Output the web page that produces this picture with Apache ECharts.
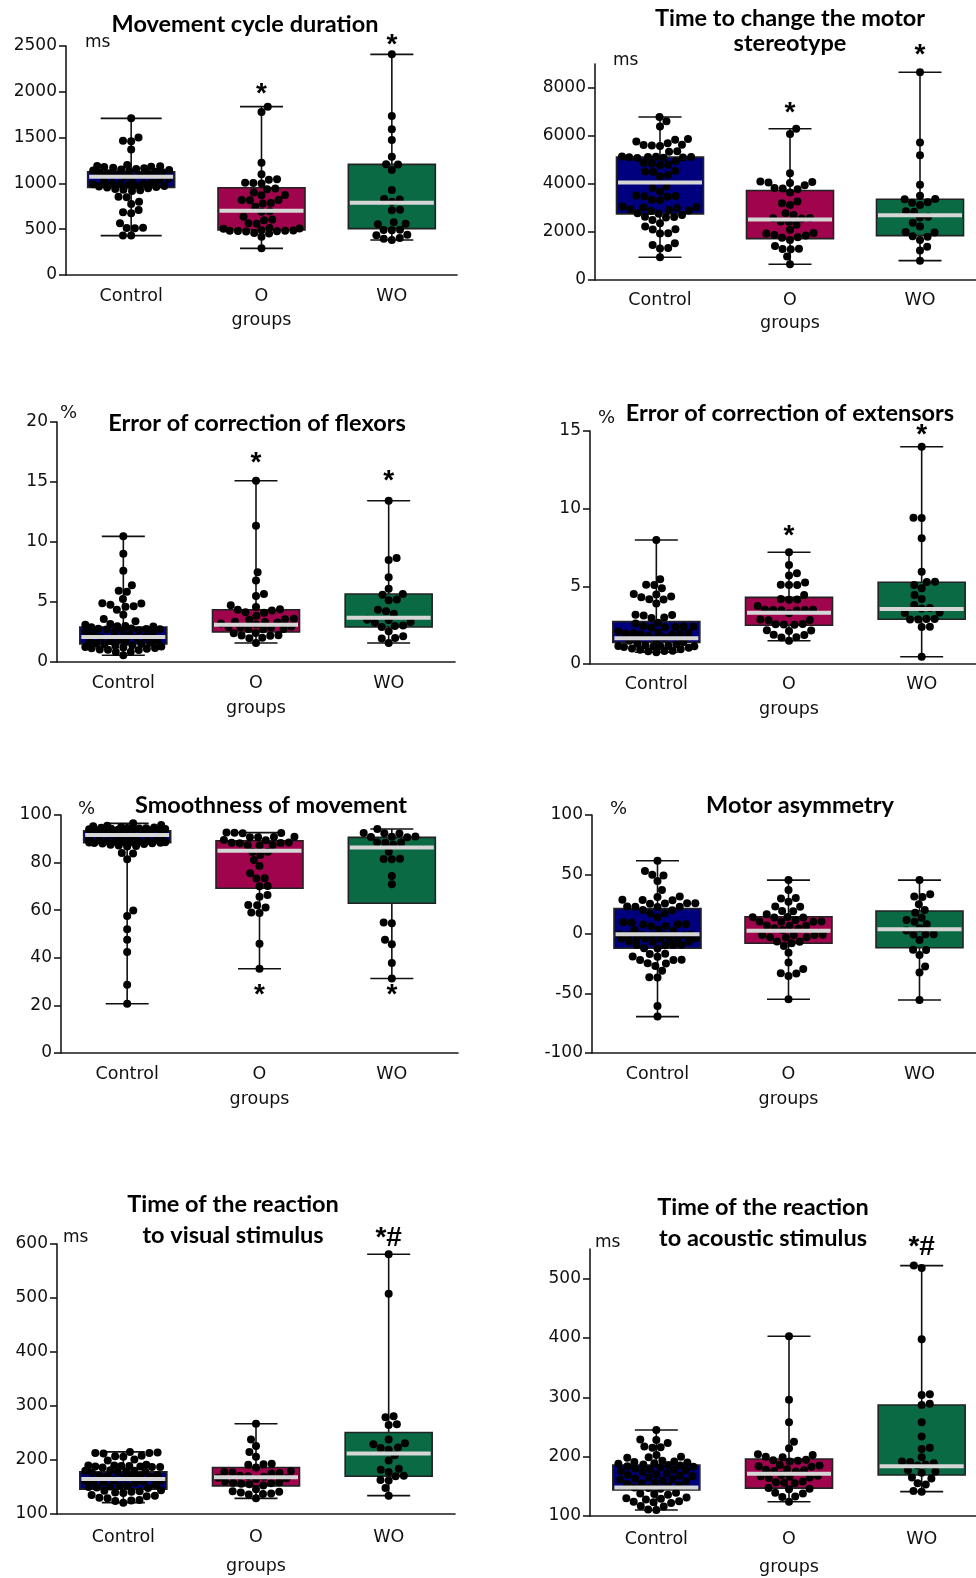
<!DOCTYPE html>
<html><head><meta charset="utf-8">
<script src="https://cdn.jsdelivr.net/npm/echarts@6/dist/echarts.min.js"></script>
<style>html,body{margin:0;padding:0;background:#fff}#c{width:976px;height:1578px}</style>
</head><body><div id="c"></div>
<script>
// ---------------- DATA ----------------
const groups = ['Control', 'O', 'WO'];
const titles = ['Movement cycle duration', 'Time to change the motor\nstereotype', 'Error of correction of flexors',
  'Error of correction of extensors', 'Smoothness of movement', 'Motor asymmetry',
  'Time of the reaction\nto visual stimulus', 'Time of the reaction\nto acoustic stimulus'];
const units = ['ms', 'ms', '%', '%', '%', '%', 'ms', 'ms'];

// box stats per group: [min, Q1, median, Q3, max]
const cycleControl = [1710,1500,1465,1460,1370,1200,1190,1188,1182,1178,1170,1165,1158,1152,1146,1140,1134,1128,1122,1116,1110,1105,1100,1090,1075,1060,1050,1040,1030,1010,1005,1000,996,992,986,980,972,966,960,954,948,940,932,924,918,855,850,800,775,710,685,673,564,517,512,510,432,430];
const cycleO = [1838,1780,1226,1099,1044,1040,1008,1005,1000,945,935,900,873,870,820,818,815,785,780,746,695,690,637,605,598,565,560,512,508,505,488,486,484,482,480,478,476,458,452,418,291];
const cycleWO = [2409,1736,1590,1474,1292,1210,1205,1146,928,830,825,800,712,708,575,560,553,495,490,488,440,435,405,395,382];
const cycleBox = [[430,957,1073,1128,1710],[291,491,702,953,1838],[382,506,790,1208,2409]];
const cycleTicks = [0,500,1000,1500,2000,2500];

const stereoControl = [6790,6610,6400,5870,5843,5775,5700,5640,5620,5600,5580,5360,5340,5150,5140,5130,5120,5110,5100,5090,5080,4950,4870,4850,4800,4780,4540,4520,4500,4380,4310,3900,3830,3690,3520,3500,3490,3470,3340,3320,3060,3040,3020,3000,2950,2920,2900,2880,2780,2760,2710,2640,2620,2600,2500,2365,2230,2110,2100,1950,1940,1530,1460,1330,1310,946];
const stereoO = [6303,6080,4452,4100,4080,4060,4040,3950,3830,3810,3780,3650,3270,3200,3130,2780,2710,2580,2570,2560,2440,2430,2300,2090,1960,1940,1870,1850,1780,1760,1670,1420,1300,1290,1280,974,654];
const stereoWO = [8654,5732,5203,3965,3506,3380,3360,3240,3220,3130,2860,2840,2640,2600,2390,2226,2000,1980,1820,1800,1670,1390,1224,807];
const stereoBox = [[946,2755,4063,5120,6790],[654,1725,2518,3729,6303],[807,1850,2699,3367,8654]];
const stereoTicks = [0,2000,4000,6000,8000];

const flexControl = [10.47,9.03,7.6,6.39,5.94,5.85,5.25,4.9,4.88,4.78,4.64,4.6,4.36,3.94,3.58,3.39,3.17,3.1,3.0,2.97,2.95,2.9,2.8,2.78,2.75,2.72,2.7,2.65,2.6,2.55,2.5,2.4,2.3,2.2,2.1,2.05,2.0,1.9,1.8,1.75,1.7,1.65,1.6,1.55,1.5,1.45,1.4,1.35,1.3,1.25,1.2,1.17,1.15,1.1,1.05,1.03,1.0,0.85,0.83,0.56];
const flexO = [15.1,11.36,7.47,6.8,5.67,5.5,4.72,4.58,4.4,4.36,4.3,4.14,4.1,3.86,3.6,3.56,3.53,3.35,3.33,3.3,3.2,3.15,2.95,2.92,2.9,2.88,2.76,2.74,2.72,2.42,2.4,2.22,2.2,2.18,2.02,1.98,1.58];
const flexWO = [13.44,8.67,8.5,7.06,6.11,5.67,5.6,5.2,5.15,4.36,4.22,4.03,3.53,3.5,3.33,3.3,3.05,3.0,2.92,2.56,2.14,2.0,1.95,1.58];
const flexBox = [[0.56,1.5,2.08,2.92,10.47],[1.58,2.5,3.11,4.36,15.1],[1.58,2.92,3.69,5.67,13.44]];
const flexTicks = [0,5,10,15,20];

const extControl = [7.98,5.45,5.1,5.08,4.87,4.5,4.48,4.35,4.3,4.17,4.15,3.9,3.17,3.15,3.12,3.0,2.96,2.65,2.6,2.45,2.42,2.4,2.38,2.36,2.34,2.1,2.05,2.0,1.98,1.96,1.94,1.92,1.9,1.8,1.7,1.6,1.5,1.4,1.3,1.25,1.2,1.18,1.16,1.15,1.14,1.12,1.1,1.05,1.0,0.95,0.92,0.86,0.84,0.82,0.76];
const extO = [7.19,6.37,5.84,5.7,5.24,5.1,5.09,5.08,4.44,4.18,4.16,4.14,3.73,3.5,3.49,3.48,3.47,3.46,3.45,3.26,2.86,2.84,2.82,2.58,2.56,2.54,2.52,2.17,2.15,2.13,1.88,1.86,1.73,1.71,1.5];
const extWO = [13.99,9.42,9.4,8.09,5.94,5.3,5.28,5.09,4.87,4.44,4.18,3.8,3.6,3.58,3.32,3.28,2.9,2.89,2.87,2.86,2.4,2.38,0.47];
const extBox = [[0.76,1.39,1.65,2.73,7.98],[1.5,2.49,3.3,4.29,7.19],[0.47,2.88,3.54,5.26,13.99]];
const extTicks = [0,5,10,15];

const smoothControl = [96.5,95.8,95.5,95.3,95,94.8,94.6,94.5,94.4,94.3,94.2,94.1,94,93.9,93.8,93.7,93.6,93.5,93.3,93,92.5,92,91.5,91,90.5,90,89.8,89.6,89.4,89.2,89,88.9,88.8,88.7,88.6,88.5,88.4,88.3,88.2,88.1,88,87.8,87.5,87.2,87,86.8,84,83.8,81.4,59.9,57.6,52,47.6,42.4,28.7,20.7];
const smoothO = [92.6,92.5,92.4,92.3,90.9,90.8,90.7,90.6,89.5,89.4,88.4,88.3,88.2,88.1,87.4,87.3,87.2,84.6,84.5,83.2,81.1,78.6,75.5,73.4,73.3,70.2,70.1,66.4,65.7,62.2,62.1,61.1,59,58.8,45.9,35.4];
const smoothWO = [94.1,92.4,92.3,92.2,91,90.9,90.8,90.7,88.5,88.4,88.3,87.5,84.6,81.6,81.5,81.4,74.4,70.9,54.8,54.5,47.6,45.7,37.8,31.3];
const smoothBox = [[20.7,88.4,91.6,93.4,96.5],[35.4,69.2,85,89.2,92.6],[31.3,62.9,86.3,90.6,94.1]];
const smoothTicks = [0,20,40,60,80,100];

const asymControl = [61.5,52.9,49.8,49.2,44.5,36.9,31.5,31.1,28.7,28.5,28.3,25.9,25.8,25.6,25.5,23.1,23,22.8,22.7,20.2,20,17.4,17.2,14,9.9,9.7,8.2,8.1,8,6.8,6.6,3.5,3.3,2.5,-0.5,-0.6,-0.7,-0.8,-0.9,-1,-1.1,-3.4,-3.5,-3.6,-3.7,-3.8,-3.9,-4,-6.3,-6.4,-6.5,-9.1,-9.2,-9.3,-9.4,-11.9,-12.1,-16.7,-16.9,-18.9,-19.1,-21.7,-21.8,-21.9,-24.5,-24.7,-26.9,-30.8,-36.3,-36.5,-60.4,-69.4];
const asymO = [45.3,37,30.2,29.8,27,23.2,22.8,19.4,19.2,16.5,14.2,14.1,13.9,13.8,11.7,10.5,10.4,10.3,10.2,7.1,7,6.9,4.9,4.7,3.4,-0.7,-0.8,-0.9,-1,-2.7,-2.8,-2.9,-6.3,-6.5,-7.8,-10,-15.7,-24,-29.4,-33.1,-32.9,-35.2,-54.8];
const asymWO = [45.3,33.3,31.5,31.1,24.9,20.1,17.9,13.7,11.7,10.3,8.1,4.8,3,-0.2,-0.3,-0.4,-5,-13.3,-13.5,-17.6,-27.4,-32.4,-55.4];
const asymBox = [[-69.4,-12,-0.3,21.3,61.5],[-54.8,-7.8,2.8,14.5,45.3],[-55.4,-11.5,3.9,19.3,45.3]];
const asymTicks = [-100,-50,0,50,100];

const visualControl = [215,214,213,213,212,208,207,206,201,199,191,190,190,189,189,188,188,187,187,186,181,180,180,179,178,178,177,172,171,171,170,169,168,167,163,162,162,161,160,159,158,154,153,152,151,150,149,148,144,143,142,141,140,139,135,134,133,130,129,126,125,124,121];
const visualO = [267,238,226,215,206,193,192,191,186,179,178,177,176,175,171,170,169,167,166,165,160,159,158,157,156,155,153,146,142,141,140,138,137,136,129];
const visualWO = [581,508,281,279,266,265,238,231,229,223,222,219,209,199,184,182,178,171,170,163,162,148,134];
const visualBox = [[121,146,165,178,215],[129,152,168,186,267],[134,170,212,251,581]];
const visualTicks = [100,200,300,400,500,600];

const acousticControl = [245,229,228,223,217,216,215,203,200,199,198,193,192,191,190,189,188,187,186,185,184,183,182,180,179,178,177,176,174,172,170,169,168,167,165,163,162,161,160,158,156,155,154,152,150,148,147,146,139,138,137,136,131,130,129,128,125,124,123,122,117,116,111,110];
const acousticO = [403,296,258,225,214,204,203,200,199,195,194,193,192,186,185,184,183,179,178,177,176,175,169,168,167,166,165,164,158,157,156,155,147,146,145,139,138,133,132,124];
const acousticWO = [522,518,398,305,304,289,287,258,234,215,213,199,192,191,189,187,185,177,175,173,165,163,155,153,142,141];
const acousticBox = [[110,144,148,186,245],[124,147,171,196,403],[141,169,184,287,522]];
const acousticTicks = [100,200,300,400,500];

const panelData = [
  [cycleControl, cycleO, cycleWO], [stereoControl, stereoO, stereoWO],
  [flexControl, flexO, flexWO], [extControl, extO, extWO],
  [smoothControl, smoothO, smoothWO], [asymControl, asymO, asymWO],
  [visualControl, visualO, visualWO], [acousticControl, acousticO, acousticWO]];
const panelBoxes = [cycleBox, stereoBox, flexBox, extBox, smoothBox, asymBox, visualBox, acousticBox];
const panelTicks = [cycleTicks, stereoTicks, flexTicks, extTicks, smoothTicks, asymTicks, visualTicks, acousticTicks];
const panelRange = [[0,2500],[0,9000],[0,20],[0,15],[0,100],[-100,100],[100,600],[100,550]];
// significance marks: panel, group, text, whisker end
const marks = [
  [0,1,'*','max'],[0,2,'*','max'],[1,1,'*','max'],[1,2,'*','max'],
  [2,1,'*','max'],[2,2,'*','max'],[3,1,'*','max'],[3,2,'*','max'],
  [4,1,'*','min'],[4,2,'*','min'],[6,2,'*#','max'],[7,2,'*#','max']];

// ---------------- LAYOUT / STYLE ----------------
const layout = [
  {grid:[66,46,391,229], title:[245,24,25], unit:[85,43], lm:12, ng:36, cap:[61,43,43]},
  {grid:[595,64,390,216], title:[790,31,25], unit:[613,61], lm:11, ng:34, cap:[43,43,43]},
  {grid:[57,422,398,240], title:[257,423,25], unit:[60,413], lm:12, ng:37, cap:[43,43,43]},
  {grid:[590,431,398,233], title:[790,413,25], unit:[598,418], lm:11, ng:36, cap:[43,43,43]},
  {grid:[61,815,397,238], title:[271,805,25], unit:[78,809], lm:12, ng:37, cap:[43,43,43]},
  {grid:[592,815,393,238], title:[800,805,25], unit:[610,809], lm:12, ng:37, cap:[43,43,43]},
  {grid:[57,1244,398,270], title:[233,1219.5,31], unit:[63,1238], lm:14, ng:43, cap:[43,43,43]},
  {grid:[590,1249,398,267], title:[763,1222.5,31], unit:[595,1243], lm:14, ng:42, cap:[43,43,43]}];
const markDy = [-12,-9,-15.5,-17,-18,-19,-16,-11,27,17,-16,-18];
const COLORS = ['#00007E', '#A0044C', '#0A6A44'];
const BOX_W = 87, R = 4, D = 8.2, SPREAD = 38;
const AXIS_COLOR = '#1a1a1a', TXT = '#111';
const TICK_FONT = 'DejaVu Sans';

// deterministic beeswarm: offsets in px, limited to +/- SPREAD (overlap allowed when crowded)
function swarm(values, ppu) {
  const order = values.map((v, i) => i).sort((a, b) => values[a] - values[b]);
  const placed = [], offs = new Array(values.length);
  let flip = 1;
  for (const i of order) {
    const y = values[i] * ppu;
    const near = placed.filter(p => Math.abs(p.y - y) < D);
    const cands = [0];
    near.forEach(p => { const dx = Math.sqrt(D * D - (p.y - y) * (p.y - y)); cands.push(p.x + dx, p.x - dx); });
    cands.sort((a, b) => (Math.abs(a) - Math.abs(b)) || (flip * (b - a)));
    let chosen = null;
    for (const c of cands) {
      if (Math.abs(c) > SPREAD) continue;
      if (near.every(p => (p.x - c) ** 2 + (p.y - y) ** 2 >= D * D - 1e-6)) { chosen = c; break; }
    }
    if (chosen === null) {
      let best = Infinity;
      for (let s = 0; s <= 2 * SPREAD; s++) {
        const c = flip > 0 ? SPREAD - s : -SPREAD + s;
        let cost = 0;
        near.forEach(p => { const d = Math.hypot(p.x - c, p.y - y); if (d < D) cost += (D - d) * (D - d); });
        if (cost < best - 1e-9) { best = cost; chosen = c; }
      }
    }
    offs[i] = chosen; placed.push({x: chosen, y});
    flip = -flip;
  }
  return offs;
}

const option = {animation: false, backgroundColor: '#fff', grid: [], xAxis: [], yAxis: [], series: [], graphic: []};

layout.forEach((L, p) => {
  const [gl, gt, gw, gh] = L.grid;
  const [mn, mx] = panelRange[p];
  option.grid.push({left: gl, top: gt, width: gw, height: gh, containLabel: false, outerBoundsMode: 'none'});
  option.xAxis.push({
    type: 'category', gridIndex: p, data: groups, boundaryGap: true,
    name: 'groups', nameLocation: 'middle', nameGap: L.ng, nameMoveOverlap: false,
    nameTextStyle: {fontFamily: TICK_FONT, fontSize: 17.5, color: TXT},
    axisLine: {onZero: false, lineStyle: {color: AXIS_COLOR, width: 1.6}},
    axisTick: {alignWithLabel: true, length: 6, lineStyle: {color: AXIS_COLOR, width: 1.6}},
    axisLabel: {margin: L.lm, fontFamily: TICK_FONT, fontSize: 17.5, color: TXT},
    splitLine: {show: false}
  });
  option.yAxis.push({
    type: 'value', gridIndex: p, min: mn, max: mx,
    axisLine: {show: true, onZero: false, lineStyle: {color: AXIS_COLOR, width: 1.6}},
    axisTick: {show: true, length: 7, customValues: panelTicks[p], lineStyle: {color: AXIS_COLOR, width: 1.6}},
    axisLabel: {margin: 9, customValues: panelTicks[p], formatter: v => String(v),
      fontFamily: TICK_FONT, fontSize: 17, color: TXT},
    splitLine: {show: false}
  });
  const ppu = gh / (mx - mn);
  const boxes = panelBoxes[p];
  // whiskers + boxes
  option.series.push({
    type: 'custom', xAxisIndex: p, yAxisIndex: p, z: 2, clip: false,
    data: boxes.map((b, g) => [g].concat(b)),
    encode: {x: 0, y: [1, 2, 3, 4, 5]},
    renderItem: (params, api) => {
      const g = api.value(0);
      const c = api.coord([g, api.value(3)])[0];
      const yv = k => api.coord([g, api.value(k)])[1];
      const yMin = yv(1), yQ1 = yv(2), yQ3 = yv(4), yMax = yv(5);
      const hw = BOX_W / 2, cw = L.cap[g] / 2;
      const ls = {stroke: '#111', lineWidth: 1.6};
      return {type: 'group', children: [
        {type: 'line', shape: {x1: c, y1: yMax, x2: c, y2: yQ3}, style: ls},
        {type: 'line', shape: {x1: c, y1: yQ1, x2: c, y2: yMin}, style: ls},
        {type: 'line', shape: {x1: c - cw, y1: yMax, x2: c + cw, y2: yMax}, style: ls},
        {type: 'line', shape: {x1: c - cw, y1: yMin, x2: c + cw, y2: yMin}, style: ls},
        {type: 'rect', shape: {x: c - hw, y: yQ3, width: 2 * hw, height: yQ1 - yQ3},
          style: {fill: COLORS[g], stroke: '#222', lineWidth: 1.6}}
      ]};
    }
  });
  // points
  const pts = [];
  panelData[p].forEach((vals, g) => {
    const offs = swarm(vals, ppu);
    vals.forEach((v, i) => pts.push([g, v, offs[i]]));
  });
  option.series.push({
    type: 'custom', xAxisIndex: p, yAxisIndex: p, z: 3, clip: false,
    data: pts, encode: {x: 0, y: 1},
    renderItem: (params, api) => {
      const pt = api.coord([api.value(0), api.value(1)]);
      return {type: 'circle', shape: {cx: pt[0] + api.value(2), cy: pt[1], r: R}, style: {fill: '#000'}};
    }
  });
  // medians
  option.series.push({
    type: 'custom', xAxisIndex: p, yAxisIndex: p, z: 4, clip: false,
    data: boxes.map((b, g) => [g, b[2]]), encode: {x: 0, y: 1},
    renderItem: (params, api) => {
      const pt = api.coord([api.value(0), api.value(1)]);
      const hw = BOX_W / 2 - 1.5;
      return {type: 'line', shape: {x1: pt[0] - hw, y1: pt[1], x2: pt[0] + hw, y2: pt[1]},
        style: {stroke: '#D6D6D6', lineWidth: 4}};
    }
  });
  // significance marks
  const pm = marks.map((m, k) => [m, k]).filter(e => e[0][0] === p);
  if (pm.length) {
    option.series.push({
      type: 'custom', xAxisIndex: p, yAxisIndex: p, z: 5, clip: false,
      data: pm.map(([m]) => [m[1], m[3] === 'max' ? boxes[m[1]][4] : boxes[m[1]][0]]),
      encode: {x: 0, y: 1},
      renderItem: (params, api) => {
        const [m, k] = pm[params.dataIndex];
        const pt = api.coord([api.value(0), api.value(1)]);
        return {type: 'text', x: pt[0], y: pt[1] + markDy[k],
          style: {text: m[2], font: 'bold 28px "Liberation Sans"', fill: '#000', textAlign: 'center', textVerticalAlign: 'middle'}};
      }
    });
  }
  // title and unit
  option.graphic.push({type: 'text', x: L.title[0], y: L.title[1], z: 10,
    style: {text: titles[p], font: 'bold 23.5px Lato', fill: '#000', textAlign: 'center', textVerticalAlign: 'middle', lineHeight: L.title[2]}});
  option.graphic.push({type: 'text', x: L.unit[0], y: L.unit[1], z: 10,
    style: {text: units[p], font: (units[p] === '%' ? '18px' : '17px') + ' "DejaVu Sans"', fill: '#111', textAlign: 'left', textVerticalAlign: 'middle'}});
});

const chart = echarts.init(document.getElementById('c'), null, {renderer: 'canvas', width: 976, height: 1578});
chart.setOption(option);
</script></body></html>
